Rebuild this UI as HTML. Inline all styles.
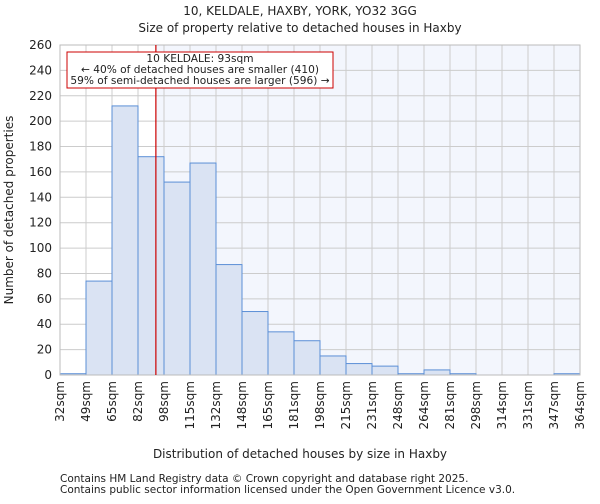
<!DOCTYPE html>
<html><head><meta charset="utf-8"><style>
body{margin:0;background:#fff;font-family:"DejaVu Sans","Liberation Sans",sans-serif}
svg text{font-family:"DejaVu Sans","Liberation Sans",sans-serif;fill:#222}
</style></head><body>
<svg id="c" width="600" height="500">
<text x="300" y="15" font-size="12" text-anchor="middle">10, KELDALE, HAXBY, YORK, YO32 3GG</text>
<text x="300" y="32" font-size="12" text-anchor="middle">Size of property relative to detached houses in Haxby</text>
<g id="plot"></g>
<text x="300" y="458" font-size="12" text-anchor="middle">Distribution of detached houses by size in Haxby</text>
<text transform="translate(13,210) rotate(-90)" font-size="12" text-anchor="middle">Number of detached properties</text>
<text x="60" y="482" font-size="10.5" fill="#444">Contains HM Land Registry data © Crown copyright and database right 2025.</text>
<text x="60" y="493" font-size="10.5" fill="#444">Contains public sector information licensed under the Open Government Licence v3.0.</text>
</svg>
<script>
const edges=[32,49,65,82,98,115,132,148,165,181,198,215,231,248,264,281,298,314,331,347,364];
const counts=[1,74,212,172,152,167,87,50,34,27,15,9,7,1,4,1,0,0,0,1];
const yTicks=[0,20,40,60,80,100,120,140,160,180,200,220,240,260];
const subjectSize=93;
const X0=60,X1=580,Y0=375,Y1=45,YMAX=260;
const bw=(X1-X0)/counts.length;
const xi=i=>X0+i*bw;
function xv(v){for(let i=0;i<edges.length-1;i++){if(v<=edges[i+1])return xi(i)+(v-edges[i])/(edges[i+1]-edges[i])*bw;}return X1;}
const y=v=>Y0-v/YMAX*(Y0-Y1);
const g=document.getElementById('plot');const NS='http://www.w3.org/2000/svg';
function mk(t,a,p){const e=document.createElementNS(NS,t);for(const k in a)e.setAttribute(k,a[k]);(p||g).appendChild(e);return e;}
const sx=xv(subjectSize);
const sh=mk('rect',{x:sx,y:Y1,width:X1-sx,height:Y0-Y1,fill:'#f3f6fd'});


yTicks.forEach(t=>{const l=mk('line',{x1:X0,x2:X1,y1:y(t),y2:y(t),stroke:'#ccc'});


const tx=mk('text',{x:X0-8,y:y(t)+4,'font-size':12,'text-anchor':'end'});tx.textContent=t;

});
edges.forEach((e,i)=>{const l=mk('line',{x1:xi(i),x2:xi(i),y1:Y1,y2:Y0,stroke:'#ccc'});


const tx=mk('text',{transform:`translate(${xi(i)+4},${Y0+6}) rotate(-90)`,'font-size':12,'text-anchor':'end'});tx.textContent=e+'sqm';

});
counts.forEach((c,i)=>{const r=mk('rect',{x:xi(i),y:y(c),width:bw,height:Y0-y(c),fill:'#dae3f3',stroke:'#5b8fd6','stroke-width':1});

});
const ax=mk('rect',{x:X0,y:Y1,width:X1-X0,height:Y0-Y1,fill:'none',stroke:'#bbb'});


const rl=mk('line',{x1:sx,x2:sx,y1:Y1,y2:Y0,stroke:'#cc0000','stroke-width':1.2});


const box=mk('rect',{x:67,y:52,width:266,height:36,fill:'#fff',stroke:'#cc0000'});


['10 KELDALE: 93sqm','← 40% of detached houses are smaller (410)','59% of semi-detached houses are larger (596) →'].forEach((s,i)=>{
const t=mk('text',{x:200,y:62+i*11,'font-size':10.6,'text-anchor':'middle'});t.textContent=s;

});
</script>
</body></html>
